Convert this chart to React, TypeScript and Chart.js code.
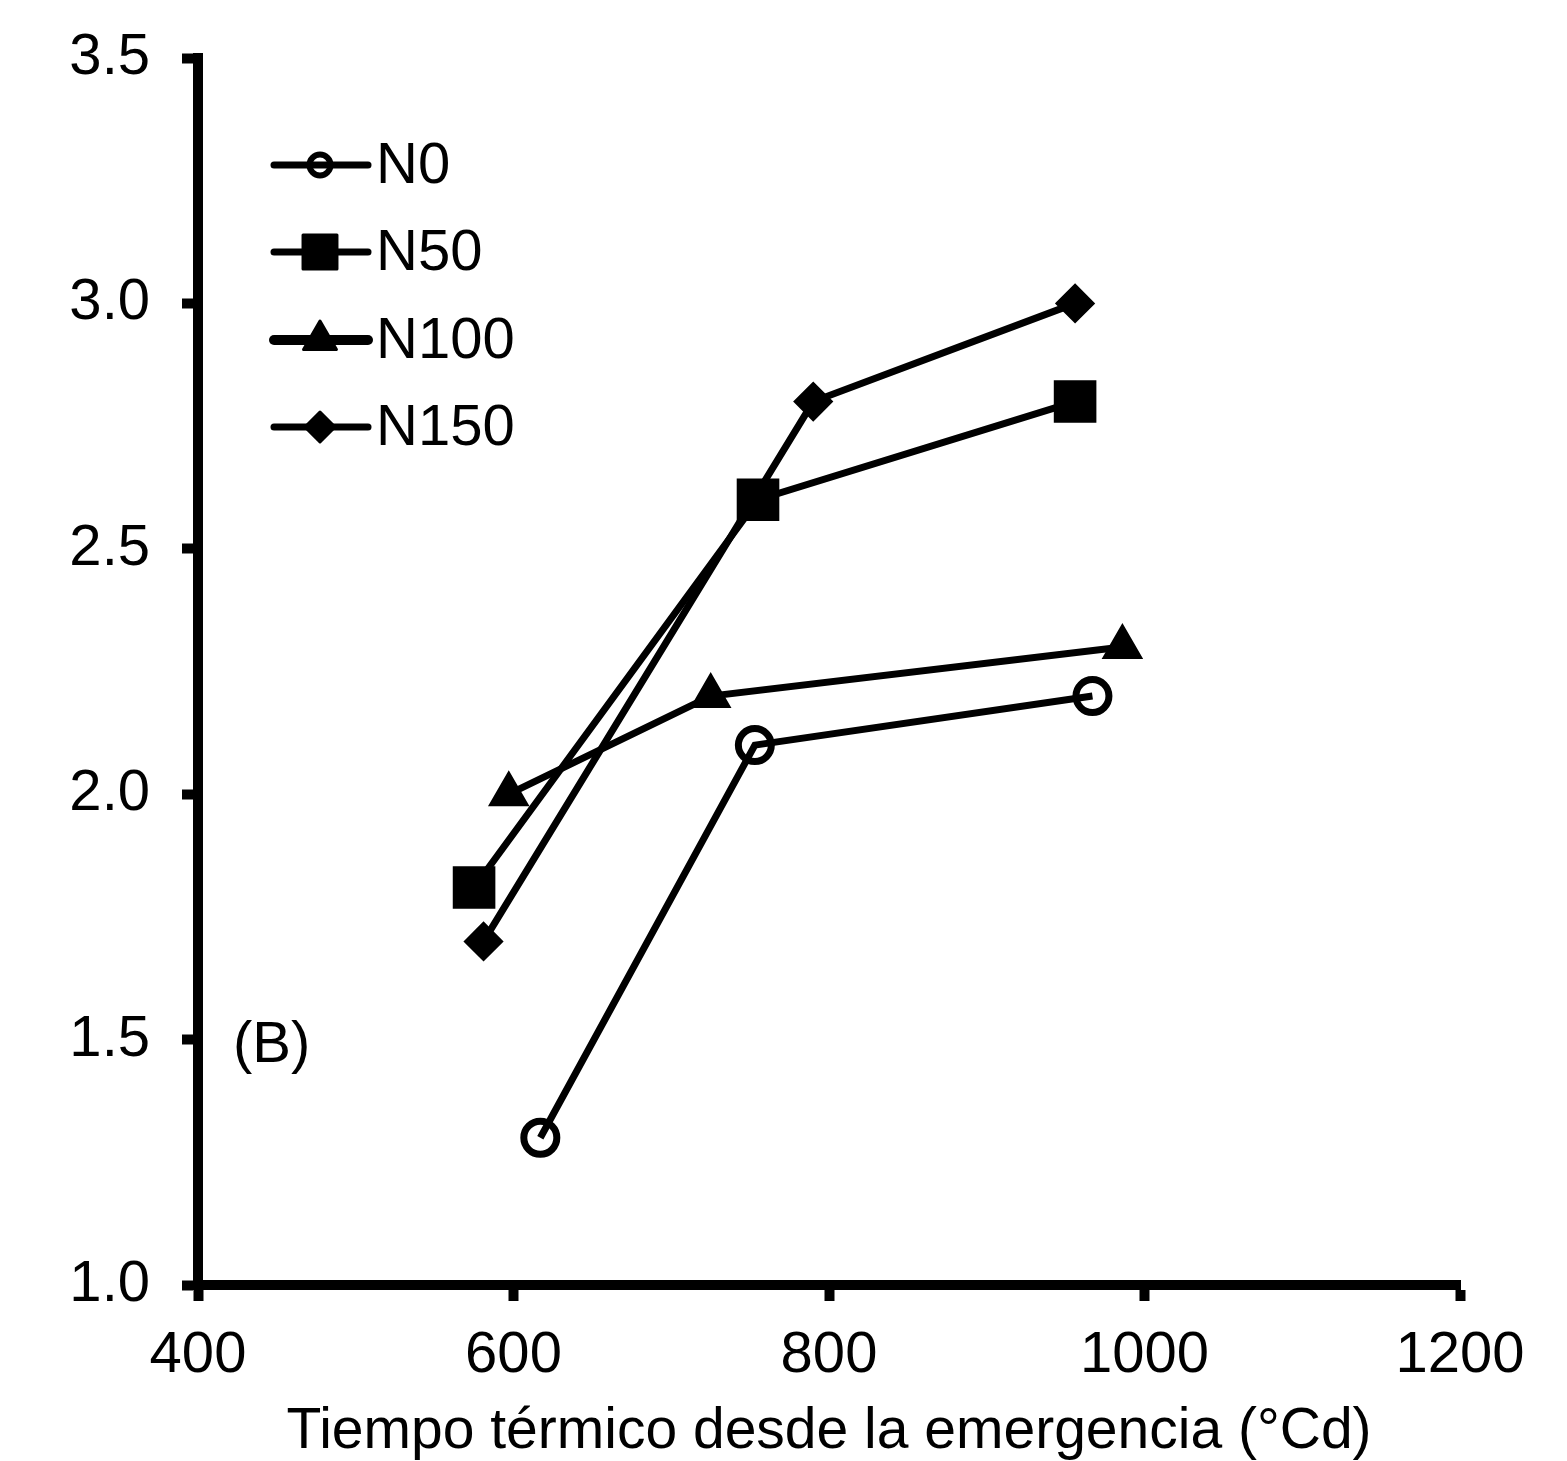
import React, { useEffect, useRef } from "react";
import { Chart, registerables } from "chart.js";

Chart.register(...registerables);

const seriesNames = ["N0", "N50", "N100", "N150"];
const n0X = [617, 753, 967];
const n0Y = [1.3, 2.1, 2.2];
const n50X = [575, 755, 956];
const n50Y = [1.81, 2.6, 2.8];
const n100X = [597, 725, 986];
const n100Y = [2.0, 2.2, 2.3];
const n150X = [581, 790, 956];
const n150Y = [1.7, 2.8, 3.0];
const xTicks = [400, 600, 800, 1000, 1200];
const yTicks = [1.0, 1.5, 2.0, 2.5, 3.0, 3.5];
const xTitle = "Tiempo térmico desde la emergencia (°Cd)";
const panelLabel = "(B)";

const FONT = "'Liberation Sans', Arial, sans-serif";
const FS = 58;

const pts = (xs: number[], ys: number[]) => xs.map((x, i) => ({ x, y: ys[i] }));

export default function App() {
  const ref = useRef<HTMLCanvasElement | null>(null);
  useEffect(() => {
    const canvas = ref.current;
    if (!canvas) return;

    const styles = [
      { pointStyle: "circle", radius: 16.5, bw: 7, bg: "rgba(0,0,0,0)", lr: 10.5, lbw: 6 },
      { pointStyle: "rect", radius: 28, bw: 3, bg: "#000000", lr: 24, lbw: 3 },
      { pointStyle: "triangle", radius: 21, bw: 3, bg: "#000000", lr: 19, lbw: 3 },
      { pointStyle: "rectRot", radius: 18, bw: 3, bg: "#000000", lr: 15, lbw: 3 },
    ];
    const datas = [pts(n0X, n0Y), pts(n50X, n50Y), pts(n100X, n100Y), pts(n150X, n150Y)];

    const overlay = {
      id: "overlay",
      afterDraw(chart: any) {
        const ctx = chart.ctx;
        ctx.save();
        const rowY = [165, 252, 340, 427];
        chart.data.datasets.forEach((ds: any, i: number) => {
          const y = rowY[i];
          ctx.strokeStyle = "#000";
          ctx.lineWidth = i === 2 ? 10 : 7;
          ctx.lineCap = "round";
          ctx.beginPath();
          ctx.moveTo(274, y);
          ctx.lineTo(368, y);
          ctx.stroke();
          const st = styles[i];
          ctx.lineJoin = "round";
          ctx.fillStyle = st.bg;
          ctx.lineWidth = st.lbw;
          ctx.beginPath();
          const r = st.lr;
          if (st.pointStyle === "circle") {
            ctx.arc(320, y, r, 0, Math.PI * 2);
          } else if (st.pointStyle === "rect") {
            const h = r * Math.SQRT1_2;
            ctx.rect(320 - h, y - h, 2 * h, 2 * h);
          } else if (st.pointStyle === "triangle") {
            ctx.moveTo(320, y - r);
            ctx.lineTo(320 + r * 0.866, y + r * 0.5);
            ctx.lineTo(320 - r * 0.866, y + r * 0.5);
            ctx.closePath();
          } else {
            ctx.moveTo(320, y - r);
            ctx.lineTo(320 + r, y);
            ctx.lineTo(320, y + r);
            ctx.lineTo(320 - r, y);
            ctx.closePath();
          }
          ctx.fill();
          ctx.stroke();
          ctx.fillStyle = "#000";
          ctx.font = `${FS}px ${FONT}`;
          ctx.textBaseline = "middle";
          ctx.textAlign = "left";
          ctx.fillText(ds.label, 376, y + 2);
        });
        ctx.font = `${FS}px ${FONT}`;
        ctx.fillStyle = "#000";
        ctx.textBaseline = "middle";
        ctx.textAlign = "left";
        ctx.fillText(panelLabel, 233, 1046);
        ctx.restore();
      },
    };

    const chart = new Chart(canvas, {
      type: "line",
      data: {
        datasets: datas.map((d, i) => ({
          label: seriesNames[i],
          data: d,
          borderColor: "#000",
          borderWidth: 7,
          backgroundColor: styles[i].bg,
          pointStyle: styles[i].pointStyle as any,
          pointRadius: styles[i].radius,
          pointBorderWidth: styles[i].bw,
          pointBackgroundColor: styles[i].bg,
          pointBorderColor: "#000",
          tension: 0,
          fill: false,
        })),
      },
      options: {
        animation: false,
        responsive: false,
        events: [],
        layout: { padding: { top: 58, right: 107, left: 0, bottom: 0 } },
        plugins: { legend: { display: false }, tooltip: { enabled: false } },
        scales: {
          x: {
            type: "linear",
            min: 400,
            max: 1200,
            afterFit(scale: any) {
              scale.height = 176;
              scale.paddingLeft = 0;
              scale.paddingRight = 0;
            },
            afterBuildTicks(scale: any) {
              scale.ticks = xTicks.map((v) => ({ value: v }));
            },
            ticks: {
              color: "#000",
              font: { family: FONT, size: FS },
              padding: 20,
              maxRotation: 0,
              callback: (v: any) => String(v),
            },
            grid: {
              display: true,
              drawOnChartArea: false,
              drawTicks: true,
              tickLength: 16,
              tickWidth: 10,
              tickColor: "#000",
            },
            border: { display: true, width: 10, color: "#000" },
            title: {
              display: true,
              text: xTitle,
              color: "#000",
              font: { family: FONT, size: 57, lineHeight: 1 },
              padding: { top: 0, bottom: 0 },
            },
          },
          y: {
            type: "linear",
            min: 1.0,
            max: 3.5,
            afterFit(scale: any) {
              scale.width = 198;
              scale.paddingTop = 0;
              scale.paddingBottom = 0;
            },
            afterBuildTicks(scale: any) {
              scale.ticks = yTicks.map((v) => ({ value: v }));
            },
            ticks: {
              color: "#000",
              font: { family: FONT, size: FS },
              padding: 32,
              callback: (v: any) => Number(v).toFixed(1),
            },
            grid: {
              display: true,
              drawOnChartArea: false,
              drawTicks: true,
              tickLength: 16,
              tickWidth: 10,
              tickColor: "#000",
            },
            border: { display: true, width: 10, color: "#000" },
          },
        },
      },
      plugins: [overlay],
    });
    return () => chart.destroy();
  }, []);

  return (
    <div style={{ position: "absolute", left: 0, top: 0, width: 1567, height: 1461, background: "#fff" }}>
      <canvas ref={ref} width={1567} height={1461} style={{ width: 1567, height: 1461 }} />
    </div>
  );
}
